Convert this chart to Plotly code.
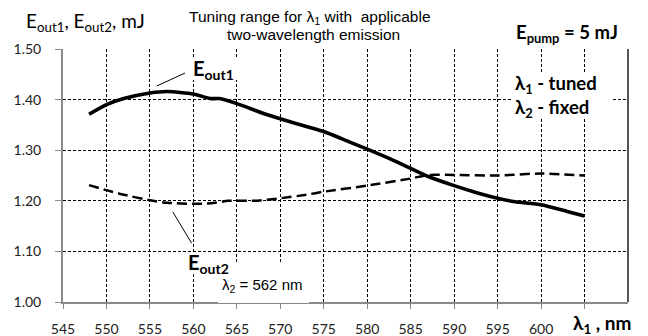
import plotly.graph_objects as go

# ---- data ----
lam1_out1 = [548, 550, 552, 555, 557, 560, 562, 563, 565, 568, 570, 573, 575, 578,
             580, 583, 585, 587, 590, 593, 595, 597, 600, 603, 605]
e_out1 = [1.371, 1.390, 1.402, 1.413, 1.416, 1.411, 1.402, 1.402, 1.392, 1.373, 1.362,
          1.347, 1.337, 1.316, 1.302, 1.280, 1.264, 1.248, 1.230, 1.214, 1.205, 1.198,
          1.192, 1.179, 1.170]

lam1_out2 = [548, 550, 552, 555, 557, 560, 562, 564, 567, 570, 573, 575, 580, 585,
             587, 590, 595, 600, 605]
e_out2 = [1.231, 1.221, 1.212, 1.201, 1.196, 1.194, 1.195, 1.200, 1.200, 1.205, 1.212,
          1.218, 1.230, 1.244, 1.251, 1.251, 1.250, 1.254, 1.250]

x_ticks = [545, 550, 555, 560, 565, 570, 575, 580, 585, 590, 595, 600, 605]
x_labels = ["545", "550", "555", "560", "565", "570", "575", "580", "585", "590",
            "595", "600", ""]
y_ticks = [1.00, 1.10, 1.20, 1.30, 1.40, 1.50]

# ---- layout geometry (page pixels; page has an 8px body margin) ----
OFF = 8
W, H = 648 - OFF, 336 - OFF
PX0, PX1 = 63, 628      # plot area left/right on page
PY0, PY1 = 49, 302      # plot area top/bottom on page
L, R = PX0 - OFF, 648 - PX1
T, B = PY0 - OFF, 336 - PY1
PW, PH = PX1 - PX0, PY1 - PY0


def px(x):
    return (x - PX0) / PW


def py(y):
    return (PY1 - y) / PH


ARIAL = "Liberation Sans, Arial, sans-serif"
CAL = "Lato, Calibri, sans-serif"

fig = go.Figure()
fig.add_trace(go.Scatter(x=lam1_out1, y=e_out1, mode="lines",
                         line=dict(color="black", width=3.6, shape="spline", smoothing=0.6),
                         showlegend=False, hoverinfo="skip"))
fig.add_trace(go.Scatter(x=lam1_out2, y=e_out2, mode="lines",
                         line=dict(color="black", width=2.5, dash="10px,5px",
                                   shape="spline", smoothing=0.6),
                         showlegend=False, hoverinfo="skip"))

fig.update_layout(
    width=W, height=H,
    margin=dict(l=L, r=R, t=T, b=B, pad=0),
    paper_bgcolor="white", plot_bgcolor="white",
    xaxis=dict(range=[545, 610], tickvals=x_ticks, ticktext=x_labels,
               showgrid=True, gridcolor="black", gridwidth=1, griddash="3px,2px",
               showline=True, linecolor="#8a8a8a", linewidth=2,
               ticks="outside", ticklen=5, tickcolor="#8a8a8a", tickwidth=1,
               ticklabelstandoff=8, automargin=False,
               tickfont=dict(family=CAL, size=14, color="#222"), zeroline=False),
    yaxis=dict(range=[1.0, 1.5], tickvals=y_ticks, tickformat=".2f",
               showgrid=True, gridcolor="black", gridwidth=1, griddash="3px,2px",
               showline=True, linecolor="#8a8a8a", linewidth=2,
               ticks="outside", ticklen=6, tickcolor="#8a8a8a", tickwidth=1,
               ticklabelstandoff=11, automargin=False,
               tickfont=dict(family=CAL, size=14, color="#222"), zeroline=False),
)

shapes = [
    # right border
    dict(type="line", xref="paper", yref="paper", x0=1, x1=1, y0=0, y1=1,
         line=dict(color="#555", width=2), layer="above"),
    # white box behind lambda2 label (covers axis line)
    dict(type="rect", xref="paper", yref="paper", x0=px(218), x1=px(309),
         y0=py(303), y1=py(262), fillcolor="white", line=dict(width=0), layer="above"),
    # white box behind "tuned/fixed" label
    dict(type="rect", xref="paper", yref="paper", x0=px(511), x1=px(613),
         y0=py(118), y1=py(72), fillcolor="white", line=dict(width=0), layer="above"),
    # white boxes behind E_out labels
    dict(type="rect", xref="paper", yref="paper", x0=px(189), x1=px(244),
         y0=py(80), y1=py(58), fillcolor="white", line=dict(width=0), layer="above"),
    dict(type="rect", xref="paper", yref="paper", x0=px(184), x1=px(236),
         y0=py(274), y1=py(254), fillcolor="white", line=dict(width=0), layer="above"),
    # leader lines
    dict(type="line", xref="paper", yref="paper", x0=px(156.7), y0=py(86),
         x1=px(185), y1=py(73), line=dict(color="black", width=1), layer="above"),
    dict(type="line", xref="paper", yref="paper", x0=px(172.7), y0=py(211.7),
         x1=px(191.7), y1=py(243.3), line=dict(color="black", width=1), layer="above"),
]
fig.update_layout(shapes=shapes)

ann = [
    dict(text="E<sub>out1</sub>, E<sub>out2</sub>, mJ", x=px(24), y=py(22),
         xanchor="left", yanchor="middle", font=dict(family=CAL, size=19, color="black")),
    dict(text="Tuning range for λ<sub>1</sub> with  applicable",
         x=px(310), y=py(17), xanchor="center", yanchor="middle", borderpad=0,
         font=dict(family=ARIAL, size=15.5, color="black")),
    dict(text="two-wavelength emission",
         x=px(313), y=py(34.5), xanchor="center", yanchor="middle", borderpad=0,
         font=dict(family=ARIAL, size=15.5, color="black")),
    dict(text="<b>E<sub>pump</sub> = 5 mJ</b>", x=px(514), y=py(34),
         xanchor="left", yanchor="middle", font=dict(family=CAL, size=18.5, color="black")),
    dict(text="<b>λ<sub>1</sub> - tuned<br>λ<sub>2</sub> - fixed</b>", x=px(513), y=py(96),
         xanchor="left", yanchor="middle", align="left",
         font=dict(family=CAL, size=18.5, color="black")),
    dict(text="<b>E<sub>out1</sub></b>", x=px(191), y=py(70),
         xanchor="left", yanchor="middle",
         font=dict(family=CAL, size=20, color="black")),
    dict(text="<b>E<sub>out2</sub></b>", x=px(186), y=py(263),
         xanchor="left", yanchor="middle",
         font=dict(family=CAL, size=20, color="black")),
    dict(text="λ<sub>2</sub> = 562 nm", x=px(220), y=py(285),
         xanchor="left", yanchor="middle",
         font=dict(family=ARIAL, size=15, color="black")),
    dict(text="<b>λ<sub>1</sub> , nm</b>", x=px(571), y=py(324),
         xanchor="left", yanchor="middle",
         font=dict(family=CAL, size=19, color="black")),
]
for a in ann:
    a.update(xref="paper", yref="paper", showarrow=False)
fig.update_layout(annotations=ann)

fig.write_html("out.html")
